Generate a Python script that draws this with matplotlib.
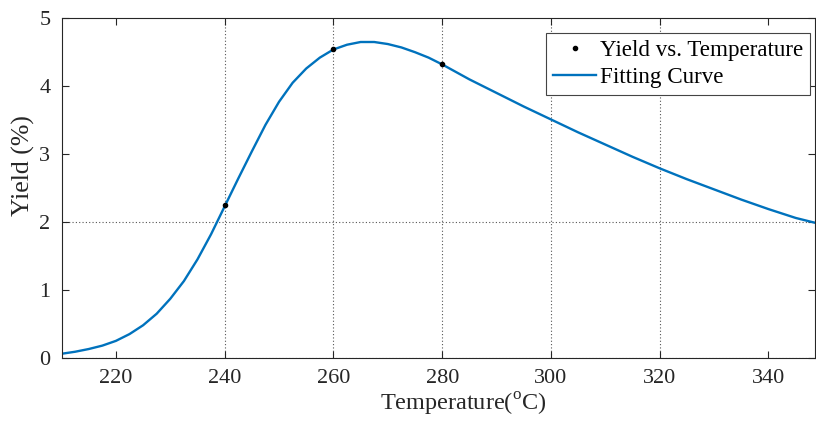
import matplotlib
matplotlib.use("Agg")
import matplotlib.pyplot as plt

plt.rcParams['font.family'] = ['Liberation Serif', 'DejaVu Serif']
plt.rcParams['mathtext.fontset'] = 'custom'
plt.rcParams['mathtext.rm'] = 'Liberation Serif'

# measured points
temp = [240, 260, 280]
yield_pct = [2.25, 4.55, 4.32]

# fitting curve
curve_t = [210, 212.5, 215, 217.5, 220, 222.5, 225, 227.5, 230, 232.5, 235, 237.5,
           240, 242.5, 245, 247.5, 250, 252.5, 255, 257.5, 260, 262.5, 265, 267.5,
           270, 272.5, 275, 277.5, 280, 282.5, 285, 287.5, 290, 295, 300, 305, 310,
           315, 320, 325, 330, 335, 340, 345, 348.5]
curve_y = [0.06, 0.09, 0.13, 0.18, 0.25, 0.35, 0.48, 0.65, 0.87, 1.13, 1.45, 1.82,
           2.23, 2.64, 3.04, 3.43, 3.77, 4.05, 4.26, 4.42, 4.54, 4.61, 4.65, 4.65,
           4.62, 4.57, 4.50, 4.42, 4.32, 4.21, 4.10, 4.00, 3.90, 3.70, 3.51, 3.32, 3.14,
           2.96, 2.79, 2.63, 2.48, 2.33, 2.19, 2.06, 1.99]

xticks = [220, 240, 260, 280, 300, 320, 340]
yticks = [0, 1, 2, 3, 4, 5]
# only these grid lines show in the picture
xgrid = [240, 260, 280, 300, 320]
ygrid = [0, 2]

fig = plt.figure(figsize=(8.16, 4.24), dpi=100)
ax = fig.add_axes([0.0754, 0.156, 0.923, 0.801])

for g in xgrid:
    ax.axvline(g, color='#555555', lw=0.8, ls=(0, (1, 2)), zorder=0)
for g in ygrid:
    ax.axhline(g, color='#555555', lw=0.8, ls=(0, (1, 2)), zorder=0)

ax.plot(temp, yield_pct, 'o', color='black', ms=3, label='Yield vs. Temperature', zorder=3)
ax.plot(curve_t, curve_y, '-', color='#0072BD', lw=1.7, label='Fitting Curve', zorder=2)

ax.set_xlim(210, 348.5)
ax.set_ylim(0, 5)
ax.set_xticks(xticks)
ax.set_yticks(yticks)
ax.tick_params(direction='in', top=True, right=True, length=5, width=0.8,
               labelsize=16, colors='#262626', pad=8)
for s in ax.spines.values():
    s.set_color('#262626')
    s.set_linewidth(0.8)

ax.set_xlabel(r'Temperature($^{\mathrm{o}}$C)', fontsize=17.5, color='#262626')
ax.set_ylabel('Yield (%)', fontsize=18.5, color='#262626')
ax.xaxis.set_label_coords(0.5335, -0.097)
ax.yaxis.set_label_coords(-0.035, 0.566)

leg = ax.legend(loc='upper right', bbox_to_anchor=(0.9934, 0.9568), borderaxespad=0,
                fontsize=16.6, fancybox=False, framealpha=1, edgecolor='#444444',
                handlelength=1.87, handletextpad=0.15, borderpad=0.3, labelspacing=0.24)
leg.get_frame().set_linewidth(0.8)

fig.savefig('out.png', dpi=100)
